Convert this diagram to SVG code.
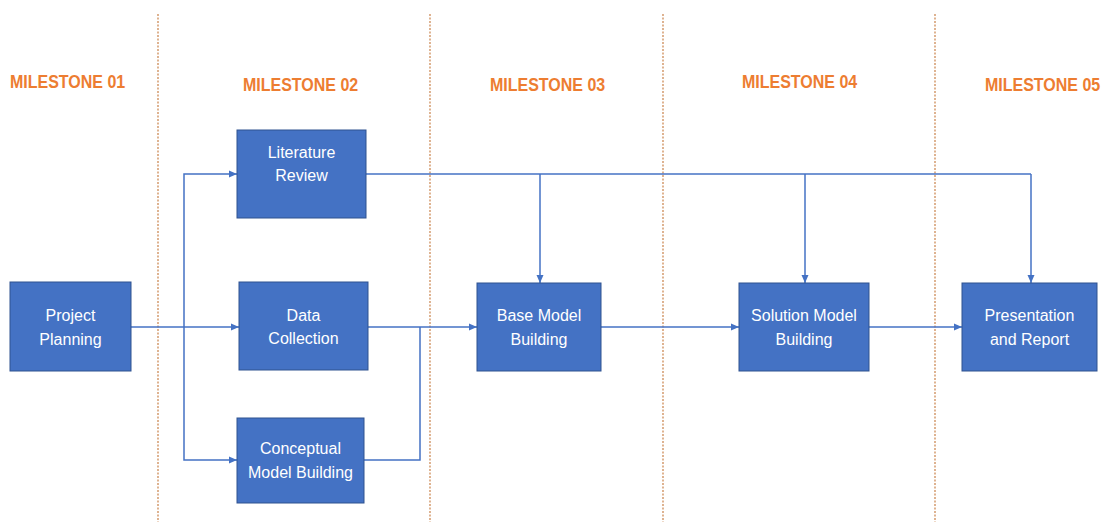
<svg xmlns="http://www.w3.org/2000/svg" width="1108" height="522" viewBox="0 0 1108 522">
<style>
.ms{font-family:"Liberation Sans",Arial,sans-serif;font-weight:bold;font-size:16px;fill:#ED7D31}
.box{fill:#4472C4;stroke:#2F528F;stroke-width:1}
.lbl{font-family:"Liberation Sans",Arial,sans-serif;font-size:16px;fill:#FFFFFF;text-anchor:middle}
.sep{stroke:#C98048;stroke-width:1.2;stroke-dasharray:2 1.5;fill:none}
.con{stroke:#4472C4;stroke-width:1.5;fill:none}
</style>
<defs>
<marker id="arr" viewBox="0 0 8 8" refX="8" refY="4" markerWidth="8" markerHeight="8" markerUnits="userSpaceOnUse" orient="auto">
<path d="M0,0.5 L8,4 L0,7.5 z" fill="#4472C4"/>
</marker>
</defs>
<rect width="1108" height="522" fill="#FFFFFF"/>
<g id="separators">
<line class="sep" x1="158" y1="14" x2="158" y2="522"/>
<line class="sep" x1="430" y1="14" x2="430" y2="522"/>
<line class="sep" x1="663" y1="14" x2="663" y2="522"/>
<line class="sep" x1="935" y1="14" x2="935" y2="522"/>
</g>
<g id="milestones">
<text class="ms" transform="translate(10,88) scale(1,1.13)">MILESTONE 01</text>
<text class="ms" transform="translate(243,91) scale(1,1.13)">MILESTONE 02</text>
<text class="ms" transform="translate(490,91) scale(1,1.13)">MILESTONE 03</text>
<text class="ms" transform="translate(742,88) scale(1,1.13)">MILESTONE 04</text>
<text class="ms" transform="translate(985,91) scale(1,1.13)">MILESTONE 05</text>
</g>
<g id="connectors">
<line class="con" x1="131" y1="327" x2="239" y2="327" marker-end="url(#arr)"/>
<polyline class="con" points="184,327 184,174 237,174" marker-end="url(#arr)"/>
<polyline class="con" points="184,327 184,460 237,460" marker-end="url(#arr)"/>
<line class="con" x1="368" y1="327" x2="477" y2="327" marker-end="url(#arr)"/>
<polyline class="con" points="364,460 420,460 420,327"/>
<line class="con" x1="366" y1="174" x2="1031" y2="174"/>
<line class="con" x1="540" y1="174" x2="540" y2="283" marker-end="url(#arr)"/>
<line class="con" x1="805" y1="174" x2="805" y2="283" marker-end="url(#arr)"/>
<line class="con" x1="1031" y1="174" x2="1031" y2="283" marker-end="url(#arr)"/>
<line class="con" x1="601" y1="327" x2="739" y2="327" marker-end="url(#arr)"/>
<line class="con" x1="869" y1="327" x2="962" y2="327" marker-end="url(#arr)"/>
</g>
<g id="project-planning">
<rect class="box" x="10" y="282" width="121" height="89"/>
<text class="lbl" x="70.5" y="321">Project</text>
<text class="lbl" x="70.5" y="345">Planning</text>
</g>
<g id="literature-review">
<rect class="box" x="237" y="130" width="129" height="88"/>
<text class="lbl" x="301.5" y="158">Literature</text>
<text class="lbl" x="301.5" y="181">Review</text>
</g>
<g id="data-collection">
<rect class="box" x="239" y="282" width="129" height="88"/>
<text class="lbl" x="303.5" y="321">Data</text>
<text class="lbl" x="303.5" y="344">Collection</text>
</g>
<g id="conceptual-model-building">
<rect class="box" x="237" y="418" width="127" height="85"/>
<text class="lbl" x="300.5" y="454">Conceptual</text>
<text class="lbl" x="300.5" y="478">Model Building</text>
</g>
<g id="base-model-building">
<rect class="box" x="477" y="283" width="124" height="88"/>
<text class="lbl" x="539" y="321">Base Model</text>
<text class="lbl" x="539" y="345">Building</text>
</g>
<g id="solution-model-building">
<rect class="box" x="739" y="283" width="130" height="88"/>
<text class="lbl" x="804" y="321">Solution Model</text>
<text class="lbl" x="804" y="345">Building</text>
</g>
<g id="presentation-and-report">
<rect class="box" x="962" y="283" width="135" height="88"/>
<text class="lbl" x="1029.5" y="321">Presentation</text>
<text class="lbl" x="1029.5" y="345">and Report</text>
</g>
</svg>
